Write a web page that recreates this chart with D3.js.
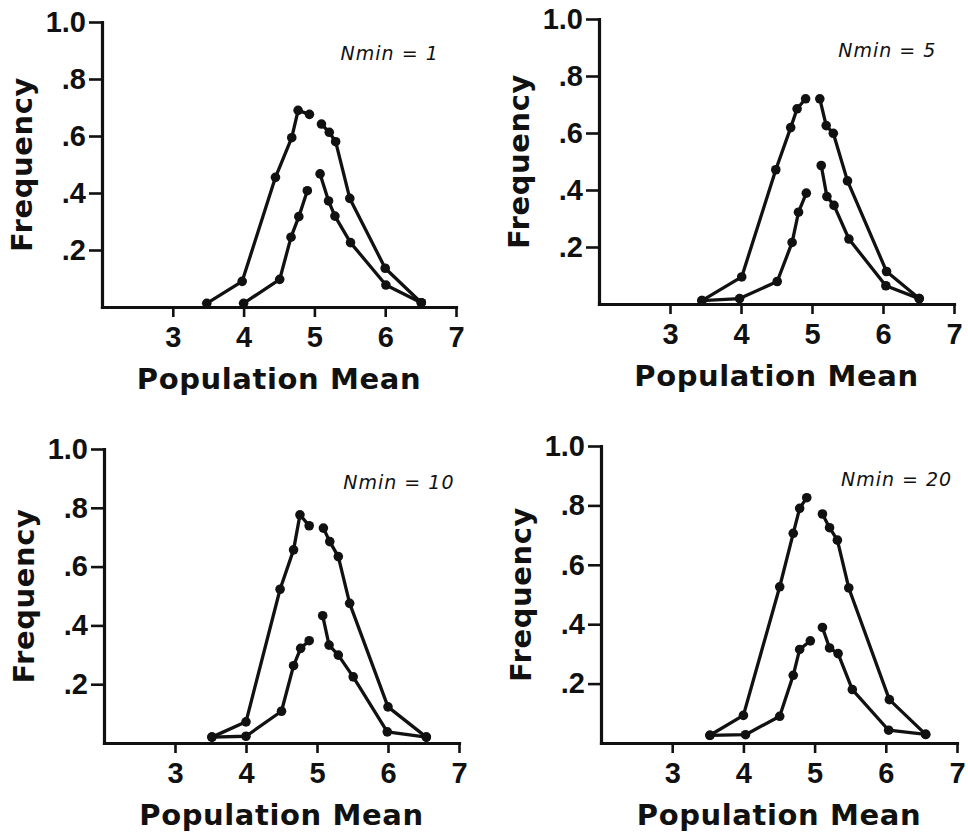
<!DOCTYPE html>
<html>
<head>
<meta charset="utf-8">
<script src="https://cdn.jsdelivr.net/npm/d3@7"></script>
<style>
  body { margin: 0; background: #fff; }
  .tick text { font-family: "Liberation Sans", Arial, sans-serif; font-weight: bold; font-size: 29px; fill: #111; }
  .title { font-family: "DejaVu Sans", sans-serif; font-weight: bold; font-size: 29px; letter-spacing: 0.6px; fill: #111; }
  .nmin { font-family: "DejaVu Sans", sans-serif; font-style: italic; font-size: 19px; letter-spacing: 1px; fill: #111; }
</style>
</head>
<body>
<div id="container"></div>
<script>

// Tick values and labels
var xTicks = [3, 4, 5, 6, 7];
var yTicks = [0.2, 0.4, 0.6, 0.8, 1.0];
var yTickLabels = [".2", ".4", ".6", ".8", "1.0"];
var nminLabels = ["Nmin = 1", "Nmin = 5", "Nmin = 10", "Nmin = 20"];

// Nmin = 1
var outerX1 = [3.48, 3.98, 4.45, 4.68, 4.77, 4.93, 5.10, 5.21, 5.30, 5.50, 6.00, 6.51];
var outerY1 = [0.013, 0.09, 0.455, 0.594, 0.69, 0.676, 0.642, 0.613, 0.58, 0.381, 0.136, 0.015];
var innerX1 = [4.00, 4.51, 4.67, 4.78, 4.90, 5.08, 5.20, 5.29, 5.51, 6.01, 6.51];
var innerY1 = [0.013, 0.097, 0.245, 0.317, 0.408, 0.467, 0.372, 0.319, 0.226, 0.077, 0.015];

// Nmin = 5
var outerX2 = [3.45, 4.01, 4.49, 4.70, 4.79, 4.91, 5.11, 5.20, 5.30, 5.50, 6.05, 6.51];
var outerY2 = [0.012, 0.095, 0.471, 0.619, 0.685, 0.72, 0.72, 0.626, 0.599, 0.432, 0.114, 0.019];
var innerX2 = [3.45, 3.98, 4.51, 4.72, 4.81, 4.92, 5.13, 5.21, 5.31, 5.52, 6.04, 6.51];
var innerY2 = [0.012, 0.019, 0.079, 0.216, 0.322, 0.389, 0.486, 0.377, 0.346, 0.228, 0.064, 0.019];

// Nmin = 10
var outerX3 = [3.52, 4.00, 4.48, 4.67, 4.76, 4.89, 5.09, 5.18, 5.30, 5.46, 6.00, 6.54];
var outerY3 = [0.02, 0.072, 0.523, 0.657, 0.776, 0.739, 0.731, 0.685, 0.634, 0.475, 0.123, 0.02];
var innerX3 = [3.52, 4.00, 4.50, 4.67, 4.77, 4.89, 5.08, 5.17, 5.30, 5.51, 5.99, 6.54];
var innerY3 = [0.02, 0.023, 0.108, 0.263, 0.322, 0.348, 0.433, 0.333, 0.299, 0.225, 0.038, 0.02];

// Nmin = 20
var outerX4 = [3.53, 4.00, 4.51, 4.70, 4.79, 4.89, 5.11, 5.21, 5.32, 5.48, 6.05, 6.56];
var outerY4 = [0.026, 0.093, 0.526, 0.706, 0.79, 0.826, 0.771, 0.725, 0.683, 0.522, 0.146, 0.029];
var innerX4 = [3.53, 4.03, 4.51, 4.70, 4.79, 4.94, 5.11, 5.21, 5.33, 5.53, 6.04, 6.56];
var innerY4 = [0.026, 0.028, 0.09, 0.228, 0.315, 0.344, 0.389, 0.32, 0.301, 0.18, 0.043, 0.029];

// Zip x and y lists into points
function zip(xs, ys) {
  return xs.map(function(d, i) { return {x: d, y: ys[i]}; });
}

var panels = [
  {label: nminLabels[0], curves: [zip(outerX1, outerY1), zip(innerX1, innerY1)]},
  {label: nminLabels[1], curves: [zip(outerX2, outerY2), zip(innerX2, innerY2)]},
  {label: nminLabels[2], curves: [zip(outerX3, outerY3), zip(innerX3, innerY3)]},
  {label: nminLabels[3], curves: [zip(outerX4, outerY4), zip(innerX4, innerY4)]}
];

// Plot boxes of the four panels (pixels)
var boxes = [
  {left: 102, right: 456, top: 22, bottom: 307},
  {left: 599, right: 954, top: 19, bottom: 304},
  {left: 104, right: 459, top: 449, bottom: 743},
  {left: 601, right: 957, top: 446, bottom: 743}
];

var width = 968,
    height = 834;

var svg = d3.select("#container")
            .append("svg")
              .attr("width", width)
              .attr("height", height);

panels.forEach(function(p, i) {
  drawPanel(svg, p, boxes[i]);
});

function drawPanel(svg, panel, box) {

  var x = d3.scaleLinear()
            .domain([2, 7])
            .range([box.left, box.right]);

  var y = d3.scaleLinear()
            .domain([0, 1])
            .range([box.bottom, box.top]);

  var g = svg.append("g");

  // Y axis
  g.append("g")
      .attr("transform", "translate(" + box.left + ",0)")
      .call(d3.axisLeft(y)
              .tickValues(yTicks)
              .tickFormat(function(d, i) { return yTickLabels[i]; })
              .tickSize(13)
              .tickSizeOuter(0)
              .tickPadding(3));

  // X axis
  g.append("g")
      .attr("transform", "translate(0," + box.bottom + ")")
      .call(d3.axisBottom(x)
              .tickValues(xTicks)
              .tickFormat(d3.format("d"))
              .tickSize(10)
              .tickSizeOuter(0)
              .tickPadding(9));

  g.selectAll(".domain")
      .attr("stroke", "#111")
      .attr("stroke-width", 3.2)
      .attr("stroke-linecap", "square");
  g.selectAll(".tick line")
      .attr("stroke", "#111")
      .attr("stroke-width", 2.6);

  // Axis titles
  g.append("text")
      .attr("class", "title")
      .attr("x", (box.left + box.right) / 2)
      .attr("y", box.bottom + 82)
      .attr("text-anchor", "middle")
      .text("Population Mean");

  g.append("text")
      .attr("class", "title")
      .attr("transform", "translate(" + (box.left - 70) + "," + (box.top + box.bottom) / 2 + ") rotate(-90)")
      .attr("text-anchor", "middle")
      .text("Frequency");

  // Nmin label
  g.append("text")
      .attr("class", "nmin")
      .attr("x", x(5.37))
      .attr("y", y(0.865))
      .text(panel.label);

  var line = d3.line()
               .x(function(d) { return x(d.x); })
               .y(function(d) { return y(d.y); });

  // Each curve is broken at a mean of 5
  panel.curves.forEach(function(c) {
    var left = c.filter(function(d) { return d.x < 5; });
    var right = c.filter(function(d) { return d.x > 5; });
    [left, right].forEach(function(seg) {
      g.append("path")
          .datum(seg)
          .attr("d", line)
          .attr("fill", "none")
          .attr("stroke", "#111")
          .attr("stroke-width", 3.3)
          .attr("stroke-linejoin", "round");
    });
    g.selectAll(null)
        .data(c)
        .enter()
        .append("circle")
          .attr("cx", function(d) { return x(d.x); })
          .attr("cy", function(d) { return y(d.y); })
          .attr("r", 4.8)
          .attr("fill", "#111");
  });
}

</script>
</body>
</html>
